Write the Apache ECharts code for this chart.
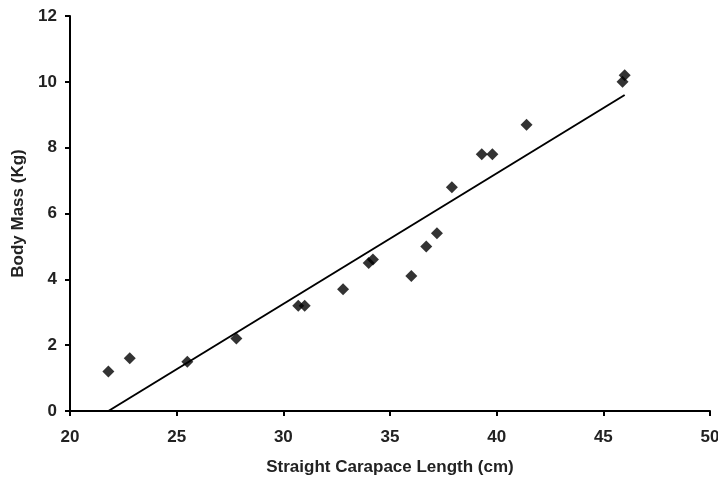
<!DOCTYPE html>
<html>
<head>
<meta charset="utf-8">
<script src="https://cdn.jsdelivr.net/npm/echarts@6/dist/echarts.min.js"></script>
<style>html,body{margin:0;padding:0;background:#fff}#c{width:718px;height:480px}</style>
</head>
<body>
<div id="c"></div>
<script>
var lengthCm = [21.8, 22.8, 25.5, 27.8, 30.7, 31.0, 32.8, 34.0, 34.2, 36.0, 36.7, 37.2, 37.9, 39.3, 39.8, 41.4, 45.9, 46.0];
var massKg   = [1.2, 1.6, 1.5, 2.2, 3.2, 3.2, 3.7, 4.5, 4.6, 4.1, 5.0, 5.4, 6.8, 7.8, 7.8, 8.7, 10.0, 10.2];
var trendX = [21.8, 46.0];
var trendY = [0, 9.6];

var points = lengthCm.map(function (x, i) { return [x, massKg[i]]; });
var trend = trendX.map(function (x, i) { return [x, trendY[i]]; });

var font = 'Liberation Sans, Arial, sans-serif';
var chart = echarts.init(document.getElementById('c'));
chart.setOption({
  animation: false,
  backgroundColor: '#fff',
  grid: { left: 70, right: 8, top: 16, bottom: 69, containLabel: false, outerBoundsMode: 'none' },
  xAxis: {
    type: 'value', min: 20, max: 50, interval: 5,
    name: 'Straight Carapace Length (cm)', nameLocation: 'middle', nameGap: 48,
    nameTextStyle: { fontFamily: font, fontWeight: 'bold', fontSize: 17, color: '#222' },
    axisLine: { lineStyle: { color: '#000', width: 2 } },
    axisTick: { show: true, length: 5, lineStyle: { color: '#000', width: 2 } },
    axisLabel: { margin: 18, fontFamily: font, fontWeight: 'bold', fontSize: 17, color: '#222' },
    splitLine: { show: false }
  },
  yAxis: {
    type: 'value', min: 0, max: 12, interval: 2,
    name: 'Body Mass (Kg)', nameLocation: 'middle', nameGap: 41,
    nameTextStyle: { fontFamily: font, fontWeight: 'bold', fontSize: 17, color: '#222' },
    axisLine: { show: true, lineStyle: { color: '#000', width: 2 } },
    axisTick: { show: true, length: 5, lineStyle: { color: '#000', width: 2 } },
    axisLabel: { margin: 13, fontFamily: font, fontWeight: 'bold', fontSize: 17, color: '#222' },
    splitLine: { show: false }
  },
  series: [
    {
      type: 'line', data: trend, symbol: 'none',
      lineStyle: { color: '#000', width: 2 }, z: 2
    },
    {
      type: 'scatter', data: points, symbol: 'diamond', symbolSize: 12,
      itemStyle: { color: '#000' }, z: 3
    }
  ]
});
</script>
</body>
</html>
